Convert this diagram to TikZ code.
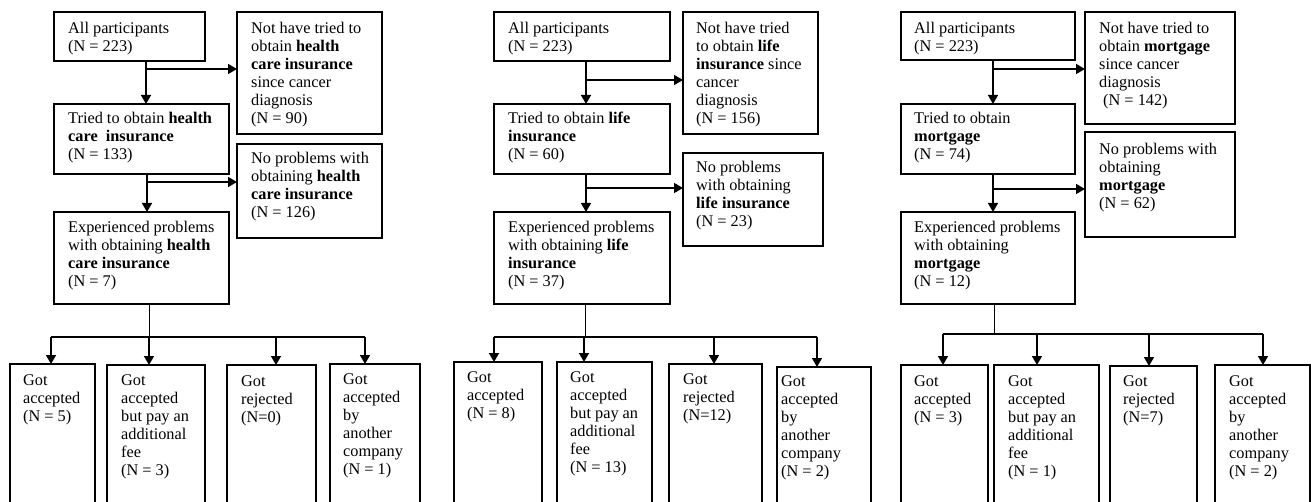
\documentclass[tikz,border=0pt]{standalone}
\usepackage{fontspec}
\setmainfont{Liberation Serif}
\usetikzlibrary{arrows.meta}
% #1 name, #2 x1, #3 y1, #4 x2, #5 y2, #6 text x, #7 first baseline y, #8 text
\newcommand{\fbx}[8]{%
  \node[box, minimum width={#4-#2}, minimum height={#5-#3}] (#1) at (#2,#3) {};
  \node[txt] (#1-t) at ({#6},{#7-12}) {\rule{0pt}{12pt}#8};
}
\begin{document}
\begin{tikzpicture}[x=1pt,y=-1pt,
  box/.style={draw, line width=1.1pt, inner sep=0pt, outer sep=0pt, anchor=north west},
  txt/.style={anchor=north west, inner sep=0pt, align=left, font=\fontsize{16.3}{18}\selectfont},
  arr/.style={line width=1.5pt, -{Triangle[length=9pt,width=10pt]}},
  trunk/.style={line width=1pt}]
\useasboundingbox (0,0) rectangle (1311,502);
\clip (0,0) rectangle (1311,502);

% ---------------- Panel 1: health care insurance ----------------
\fbx{A1}{54}{12}{205}{61}{68}{33}{All participants\\(N = 223)}
\fbx{N1}{237}{12}{382}{134}{251}{33}{Not have tried to\\obtain \textbf{health}\\\textbf{care insurance}\\since cancer\\diagnosis\\(N = 90)}
\fbx{T1}{54}{104}{229}{174}{68}{123}{Tried to obtain \textbf{health}\\\textbf{care\ \ insurance}\\(N = 133)}
\fbx{P1}{237}{144}{382}{238}{251}{163}{No problems with\\obtaining \textbf{health}\\\textbf{care insurance}\\(N = 126)}
\fbx{E1}{54}{212}{229}{304}{68}{232}{Experienced problems\\with obtaining \textbf{health}\\\textbf{care insurance}\\(N = 7)}
\fbx{B1a}{10}{364}{95}{515}{23}{385}{Got\\accepted\\(N = 5)}
\fbx{B1b}{107}{365}{205}{515}{121}{385}{Got\\accepted\\but pay an\\additional\\fee\\(N = 3)}
\fbx{B1c}{227}{365}{316}{515}{241}{386}{Got\\rejected\\(N=0)}
\fbx{B1d}{330}{364}{420}{515}{343}{384}{Got\\accepted\\by\\another\\company\\(N = 1)}

\coordinate (v1a) at (146,69);
\coordinate (v1b) at (147,182);
\draw[arr] (v1a |- A1.south) -- (v1a |- T1.north);
\draw[arr] (v1a) -- (v1a -| N1.west);
\draw[arr] (v1b |- T1.south) -- (v1b |- E1.north);
\draw[arr] (v1b) -- (v1b -| P1.west);

\coordinate (h1) at (149,337);
\coordinate (h1a) at (51,337);
\coordinate (h1b) at (149,337);
\coordinate (h1c) at (276,337);
\coordinate (h1d) at (365,337);
\draw[trunk] (h1 |- E1.south) -- (h1);
\draw[line width=1.3pt] (h1a) -- (h1d);
\draw[arr] (h1a) -- (h1a |- B1a.north);
\draw[arr] (h1b) -- (h1b |- B1b.north);
\draw[arr] (h1c) -- (h1c |- B1c.north);
\draw[arr] (h1d) -- (h1d |- B1d.north);

% ---------------- Panel 2: life insurance ----------------
\fbx{A2}{494}{12}{670}{61}{508}{33}{All participants\\(N = 223)}
\fbx{N2}{683}{12}{818}{134}{696}{33}{Not have tried\\to obtain \textbf{life}\\\textbf{insurance} since\\cancer\\diagnosis\\(N = 156)}
\fbx{T2}{494}{104}{670}{174}{508}{123}{Tried to obtain \textbf{life}\\\textbf{insurance}\\(N = 60)}
\fbx{P2}{683}{153}{823}{246}{696}{172}{No problems\\with obtaining\\\textbf{life insurance}\\(N = 23)}
\fbx{E2}{494}{212}{670}{304}{508}{232}{Experienced problems\\with obtaining \textbf{life}\\\textbf{insurance}\\(N = 37)}
\fbx{B2a}{454}{362}{542}{515}{467}{382}{Got\\accepted\\(N = 8)}
\fbx{B2b}{557}{362}{652}{515}{570}{382}{Got\\accepted\\but pay an\\additional\\fee\\(N = 13)}
\fbx{B2c}{669}{364}{762}{515}{683}{384}{Got\\rejected\\(N=12)}
\fbx{B2d}{777}{367}{871}{515}{781}{386}{Got\\accepted\\by\\another\\company\\(N = 2)}

\coordinate (v2a) at (586,80);
\coordinate (v2b) at (586,188);
\draw[arr] (v2a |- A2.south) -- (v2a |- T2.north);
\draw[arr] (v2a) -- (v2a -| N2.west);
\draw[arr] (v2b |- T2.south) -- (v2b |- E2.north);
\draw[arr] (v2b) -- (v2b -| P2.west);

\coordinate (h2) at (585,337);
\coordinate (h2a) at (494,337);
\coordinate (h2b) at (584,337);
\coordinate (h2c) at (714,337);
\coordinate (h2d) at (817,337);
\draw[trunk] (h2 |- E2.south) -- (h2);
\draw[line width=1.3pt] (h2a) -- (h2d);
\draw[arr] (h2a) -- (h2a |- B2a.north);
\draw[arr] (h2b) -- (h2b |- B2b.north);
\draw[arr] (h2c) -- (h2c |- B2c.north);
\draw[arr] (h2d) -- (h2d |- B2d.north);

% ---------------- Panel 3: mortgage ----------------
\fbx{A3}{901}{12}{1075}{60}{914}{33}{All participants\\(N = 223)}
\fbx{N3}{1085}{12}{1235}{124}{1099}{33}{Not have tried to\\obtain \textbf{mortgage}\\since cancer\\diagnosis\\\hspace{4pt}(N = 142)}
\fbx{T3}{901}{104}{1075}{174}{914}{123}{Tried to obtain\\\textbf{mortgage}\\(N = 74)}
\fbx{P3}{1085}{132}{1235}{237}{1099}{154}{No problems with\\obtaining\\\textbf{mortgage}\\(N = 62)}
\fbx{E3}{901}{212}{1075}{304}{914}{232}{Experienced problems\\with obtaining\\\textbf{mortgage}\\(N = 12)}
\fbx{B3a}{901}{365}{988}{515}{914}{386}{Got\\accepted\\(N = 3)}
\fbx{B3b}{994}{365}{1099}{515}{1008}{386}{Got\\accepted\\but pay an\\additional\\fee\\(N = 1)}
\fbx{B3c}{1110}{366}{1197}{515}{1123}{386}{Got\\rejected\\(N=7)}
\fbx{B3d}{1215}{365}{1310}{515}{1229}{386}{Got\\accepted\\by\\another\\company\\(N = 2)}

\coordinate (v3a) at (993,69);
\coordinate (v3b) at (993,189);
\draw[arr] (v3a |- A3.south) -- (v3a |- T3.north);
\draw[arr] (v3a) -- (v3a -| N3.west);
\draw[arr] (v3b |- T3.south) -- (v3b |- E3.north);
\draw[arr] (v3b) -- (v3b -| P3.west);

\coordinate (h3) at (994,334);
\coordinate (h3a) at (943,334);
\coordinate (h3b) at (1037,334);
\coordinate (h3c) at (1149,334);
\coordinate (h3d) at (1263,334);
\draw[trunk] (h3 |- E3.south) -- (h3);
\draw[line width=1.3pt] (h3a) -- (h3d);
\draw[arr] (h3a) -- (h3a |- B3a.north);
\draw[arr] (h3b) -- (h3b |- B3b.north);
\draw[arr] (h3c) -- (h3c |- B3c.north);
\draw[arr] (h3d) -- (h3d |- B3d.north);
\end{tikzpicture}
\end{document}
